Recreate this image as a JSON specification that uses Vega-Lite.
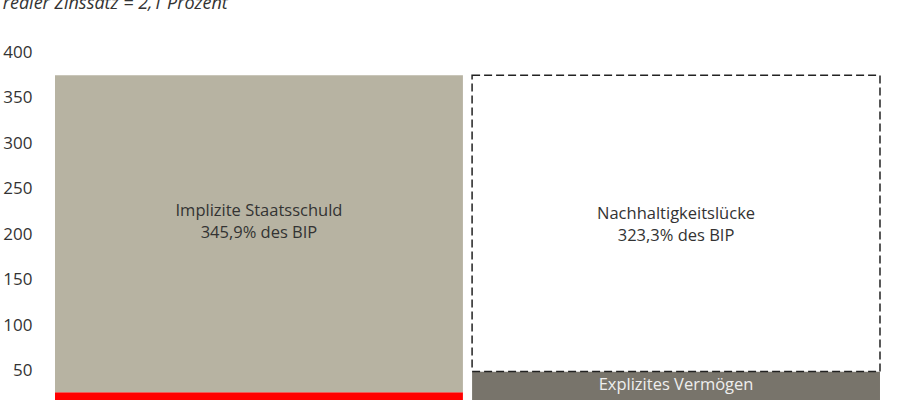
{
  "$schema": "https://vega.github.io/schema/vega-lite/v6.json",
  "width": 835,
  "height": 364,
  "padding": {"left": 2, "top": -5, "right": 0, "bottom": 0},
  "background": "white",
  "config": {
    "view": {"stroke": "transparent"},
    "axis": {"labelFont": "Open Sans", "titleFont": "Open Sans"},
    "title": {"font": "Open Sans"},
    "text": {"font": "Open Sans"}
  },
  "title": {
    "text": "realer Zinssatz = 2,1 Prozent",
    "fontStyle": "italic",
    "fontWeight": "normal",
    "fontSize": 18,
    "color": "#333333",
    "anchor": "start",
    "frame": "bounds",
    "offset": 30
  },
  "datasets": {
    "bars": [
      {"bar": "A", "part": "Explizite Staatsschuld", "start": 0, "end": 26},
      {"bar": "A", "part": "Implizite Staatsschuld", "start": 26, "end": 374.4},
      {"bar": "B", "part": "Explizites Vermögen", "start": 0, "end": 48.9},
      {"bar": "B", "part": "Nachhaltigkeitslücke", "start": 48.9, "end": 374.4}
    ],
    "labels": [
      {"bar": "A", "part": "Implizite Staatsschuld", "label": "Implizite Staatsschuld\n345,9% des BIP", "pos": 225.5},
      {"bar": "B", "part": "Nachhaltigkeitslücke", "label": "Nachhaltigkeitslücke\n323,3% des BIP", "pos": 222},
      {"bar": "B", "part": "Explizites Vermögen", "label": "Explizites Vermögen", "pos": 34.6}
    ]
  },
  "encoding": {
    "x": {
      "field": "bar",
      "type": "nominal",
      "axis": null,
      "scale": {"paddingInner": 0.022, "paddingOuter": 0.012}
    }
  },
  "layer": [
    {
      "data": {"name": "bars"},
      "transform": [{"filter": "datum.part !== 'Nachhaltigkeitslücke'"}],
      "mark": {"type": "bar"},
      "encoding": {
        "y": {
          "field": "end",
          "type": "quantitative",
          "title": null,
          "scale": {"domain": [0, 400], "nice": false},
          "axis": {
            "values": [50, 100, 150, 200, 250, 300, 350, 400],
            "grid": false,
            "domain": false,
            "ticks": false,
            "labelFontSize": 17,
            "labelColor": "#333333",
            "labelPadding": 18
          }
        },
        "y2": {"field": "start"},
        "color": {
          "field": "part",
          "type": "nominal",
          "legend": null,
          "scale": {
            "domain": ["Explizite Staatsschuld", "Implizite Staatsschuld", "Explizites Vermögen"],
            "range": ["#ff0000", "#b7b3a2", "#78746b"]
          }
        }
      }
    },
    {
      "data": {"name": "bars"},
      "transform": [{"filter": "datum.part === 'Nachhaltigkeitslücke'"}],
      "mark": {
        "type": "bar",
        "fill": "white",
        "stroke": "#222222",
        "strokeWidth": 1.5,
        "strokeDash": [8, 4]
      },
      "encoding": {
        "y": {"field": "end", "type": "quantitative"},
        "y2": {"field": "start"}
      }
    },
    {
      "data": {"name": "labels"},
      "mark": {
        "type": "text",
        "fontSize": 16.5,
        "lineHeight": 22,
        "lineBreak": "\n",
        "align": "center",
        "baseline": "middle"
      },
      "encoding": {
        "y": {"field": "pos", "type": "quantitative"},
        "text": {"field": "label"},
        "color": {
          "condition": {"test": "datum.part === 'Explizites Vermögen'", "value": "#eeeeee"},
          "value": "#333333"
        }
      }
    }
  ]
}
